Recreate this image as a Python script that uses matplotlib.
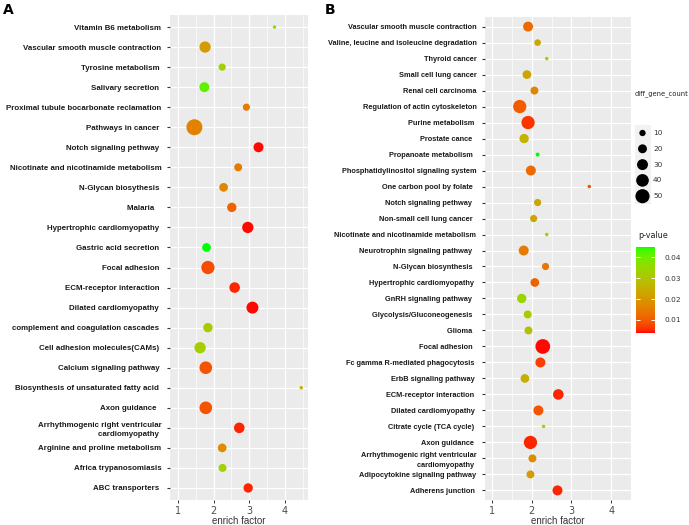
import numpy as np
import matplotlib
matplotlib.use('Agg')
from matplotlib import pyplot as plt
from matplotlib import font_manager
from matplotlib.colors import ListedColormap, Normalize
from matplotlib.transforms import ScaledTranslation
import matplotlib.cm as cm

# ---- data: panel A ----
terms_a = ['Vitamin B6 metabolism', 'Vascular smooth muscle contraction', 'Tyrosine metabolism ',
           'Salivary secretion ', 'Proximal tubule bocarbonate reclamation', 'Pathways in cancer ',
           'Notch signaling pethway ', 'Nicotinate and nicotinamide metabolism', 'N-Glycan biosythesis ',
           'Malaria   ', 'Hypertrophic cardiomyopathy ', 'Gastric acid secretion ', 'Focal adhesion ',
           'ECM-receptor interaction ', 'Dilated cardiomyopathy ', 'complement and coagulation cascades ',
           'Cell adhesion molecules(CAMs) ', 'Calcium signaling pathway ',
           'Biosynthesis of unsaturated fatty acid ', 'Axon guidance  ',
           'Arrhythmogenic right ventricular\ncardiomyopathy ', 'Arginine and proline metabolism',
           'Africa trypanosomiasis', 'ABC transporters ']
enrich_a = [3.71, 1.76, 2.24, 1.74, 2.92, 1.46, 3.26, 2.69, 2.28, 2.51, 2.96, 1.80,
            1.84, 2.59, 3.09, 1.84, 1.62, 1.78, 4.46, 1.78, 2.72, 2.24, 2.25, 2.97]
count_a = [3, 32, 13, 25, 13, 64, 25, 16, 19, 22, 32, 19,
           44, 28, 36, 22, 32, 40, 3, 40, 28, 19, 16, 22]
pval_a = [0.035, 0.021, 0.033, 0.041, 0.015, 0.016, 0.004, 0.015, 0.017, 0.011, 0.004, 0.045,
          0.008, 0.005, 0.004, 0.031, 0.032, 0.009, 0.026, 0.009, 0.005, 0.018, 0.033, 0.005]

# ---- data: panel B ----
terms_b = ['Vascular smooth muscle contraction', 'Valine, leucine and isoleucine degradation',
           'Thyroid cancer', 'Small cell lung cancer', 'Renal cell carcinoma',
           'Regulation of actin cytoskeleton', 'Purine metabolism ', 'Prostate cance  ',
           'Propanoate metabolism  ', 'Phosphatidylinositol signaling system', 'One carbon pool by folate  ',
           'Notch signaling pethway  ', 'Non-small cell lung cancer  ', 'Nicotinate and nicotinamide metabolism',
           'Neurotrophin signaling pathway  ', 'N-Glycan biosynthesis  ', 'Hypertrophic cardiomyopathy ',
           'GnRH signaling pathway  ', 'Glycolysis/Gluconeogenesis  ', 'Glioma  ', 'Focal adhesion  ',
           'Fc gamma R-mediated phagocytosis ', 'ErbB signaling pathway ', 'ECM-receptor interaction ',
           'Dilated cardiomyopathy ', 'Citrate cycle (TCA cycle) ', 'Axon guidance ',
           'Arrhythmogenic right ventricular\ncardiomyopathy ', 'Adipocytokine signaling pathway',
           'Adherens junction ']
enrich_b = [1.91, 2.15, 2.38, 1.88, 2.07, 1.70, 1.91, 1.81, 2.15, 1.98, 3.45, 2.15, 2.05, 2.38, 1.80,
            2.35, 2.08, 1.75, 1.90, 1.92, 2.28, 2.22, 1.83, 2.67, 2.17, 2.30, 1.97, 2.02, 1.97, 2.65]
count_b = [25, 11, 3, 19, 16, 44, 44, 22, 4, 25, 3, 13, 13, 3, 25,
           13, 19, 22, 16, 16, 54, 25, 19, 28, 25, 3, 44, 16, 16, 25]
pval_b = [0.012, 0.023, 0.031, 0.023, 0.017, 0.010, 0.006, 0.026, 0.045, 0.012, 0.009, 0.023, 0.023,
          0.032, 0.015, 0.014, 0.011, 0.034, 0.031, 0.029, 0.004, 0.007, 0.025, 0.005, 0.009, 0.032,
          0.005, 0.018, 0.021, 0.005]

legend_counts = [10, 20, 30, 40, 50]
cbar_ticks = [0.01, 0.02, 0.03, 0.04]
p_min, p_max = 0.0038, 0.0448


# red -> green gradient interpolated in Lab space (like ggplot)
M = np.array([[0.4124, 0.3576, 0.1805], [0.2126, 0.7152, 0.0722], [0.0193, 0.1192, 0.9505]])
WHITE = np.array([0.95047, 1.0, 1.08883])

def to_lab(c):
    c = np.asarray(c, float)
    lin = np.where(c <= 0.04045, c / 12.92, ((c + 0.055) / 1.055) ** 2.4)
    xyz = M @ lin / WHITE
    f = np.where(xyz > 0.008856, np.cbrt(xyz), 7.787 * xyz + 16 / 116)
    return np.array([116 * f[1] - 16, 500 * (f[0] - f[1]), 200 * (f[1] - f[2])])

def from_lab(lab):
    L, a, b = lab
    fy = (L + 16) / 116
    f = np.array([fy + a / 500, fy, fy - b / 200])
    xyz = np.where(f ** 3 > 0.008856, f ** 3, (f - 16 / 116) / 7.787) * WHITE
    lin = np.clip(np.linalg.inv(M) @ xyz, 0, 1)
    c = np.where(lin <= 0.0031308, 12.92 * lin, 1.055 * lin ** (1 / 2.4) - 0.055)
    return np.clip(c, 0, 1)

lab_lo, lab_hi = to_lab([1, 0, 0]), to_lab([0, 1, 0])
cmap = ListedColormap([from_lab(lab_lo + t * (lab_hi - lab_lo)) for t in np.linspace(0, 1, 256)])
norm = Normalize(p_min, p_max)

def msize(c):
    return 2.07 * np.asarray(c, float)

names = {f.name for f in font_manager.fontManager.ttflist}
if 'Liberation Sans Narrow' in names:
    lab_font, scale = 'Liberation Sans Narrow', 1.0
else:
    lab_font, scale = 'Liberation Sans', 0.84

fig = plt.figure(figsize=(6.89, 5.25), dpi=100)
W, H = 689, 525

def panel(rect, terms, enrich, counts, pvals, xlim, label_shift, label_size):
    l, t, r, b = rect
    ax = fig.add_axes([l / W, 1 - b / H, (r - l) / W, (b - t) / H])
    ax.set_facecolor('#EBEBEB')
    y = np.arange(len(terms))
    ax.scatter(enrich, y, s=msize(counts), c=pvals, cmap=cmap, norm=norm, linewidths=0, zorder=3)
    ax.set_xlim(*xlim)
    ax.set_ylim(len(terms) - 0.4, -0.6)
    ax.set_xticks([1, 2, 3, 4])
    ax.set_xticks([1.5, 2.5, 3.5, 4.5], minor=True)
    ax.set_yticks(y)
    ax.set_yticklabels(terms, fontsize=label_size * scale, fontweight='bold', family=lab_font,
                       color='#1a1a1a', linespacing=1.45)
    for lbl in ax.get_yticklabels():
        lbl.set_transform(lbl.get_transform() + ScaledTranslation(0, label_shift / 100, fig.dpi_scale_trans))
    ax.grid(which='major', color='white', lw=0.9)
    ax.grid(which='minor', axis='x', color='white', lw=0.45)
    ax.set_axisbelow(True)
    for s in ax.spines.values():
        s.set_visible(False)
    ax.tick_params(axis='y', length=2.2, width=0.8, color='#333333', pad=4)
    ax.tick_params(axis='x', length=2.2, width=0.7, color='#333333', pad=2,
                   labelsize=7, labelcolor='#4D4D4D')
    ax.tick_params(which='minor', length=0)
    ax.set_xlabel('enrich factor', fontsize=7, color='#333333', labelpad=0, family='Liberation Sans')
    return ax

ax_a = panel((170, 15, 308, 500), terms_a, enrich_a, count_a, pval_a, (0.775, 4.65), 6, 6.8)
ax_b = panel((485, 17, 631, 500), terms_b, enrich_b, count_b, pval_b, (0.826, 4.02), 5, 6.3)

# overlay in pixel coordinates for panel letters and legends
ov = fig.add_axes([0, 0, 1, 1])
ov.set_xlim(0, W)
ov.set_ylim(H, 0)
ov.axis('off')
ov.text(3, 10, 'A', fontsize=10, fontweight='bold', va='center', ha='left')
ov.text(325, 10, 'B', fontsize=10, fontweight='bold', va='center', ha='left')

ov.text(635, 94, 'diff_gene_count', fontsize=4.9, color='#222222', va='center', ha='left')
key_y = 133 + 15.8 * np.arange(len(legend_counts))
for yy in key_y:
    ov.add_patch(plt.Rectangle((634.5, yy - 7.9), 16, 15.8, color='#F2F2F2', lw=0, zorder=1))
ov.scatter(np.full(len(legend_counts), 642.5), key_y, s=msize(legend_counts), color='black',
           linewidths=0, zorder=2)
for yy, c in zip(key_y, legend_counts):
    ov.text(653, yy, str(c), fontsize=5.3, color='#333333', va='center', ha='left')

ov.text(638, 235, 'p-value', fontsize=5.8, color='#222222', va='center', ha='left')
cax = fig.add_axes([636 / W, 1 - 333 / H, 19 / W, 86 / H])
sm = cm.ScalarMappable(norm=norm, cmap=cmap)
cbar = fig.colorbar(sm, cax=cax, ticks=cbar_ticks)
cbar.outline.set_visible(False)
cax.set_yticklabels([f'{t:.2f}' for t in cbar_ticks])
cax.tick_params(length=0, labelsize=5.3, labelcolor='#333333', pad=7)
cax.hlines(cbar_ticks, 0, 0.2, color='white', lw=0.7, transform=cax.get_yaxis_transform())
cax.hlines(cbar_ticks, 0.8, 1.0, color='white', lw=0.7, transform=cax.get_yaxis_transform())

fig.savefig('out.png', dpi=100)
